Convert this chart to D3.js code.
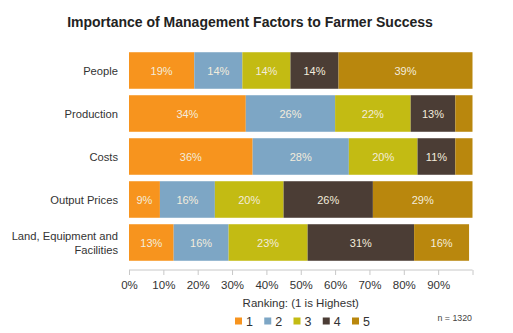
<!DOCTYPE html>
<html>
<head>
<meta charset="utf-8">
<script src="https://cdn.jsdelivr.net/npm/d3@7"></script>
<style>
  html, body { margin: 0; padding: 0; background: #fff; }
  svg { display: block; font-family: "Liberation Sans", Arial, sans-serif; }
</style>
</head>
<body>
<svg id="chart" width="513" height="333"></svg>
<script>
// Survey results: share of farmers giving each rank (1 = highest) to each factor
const categories = ["People", "Production", "Costs", "Output Prices", "Land, Equipment and Facilities"];
const ranks = ["1", "2", "3", "4", "5"];
const rank1 = [19, 34, 36, 9, 13];
const rank2 = [14, 26, 28, 16, 16];
const rank3 = [14, 22, 20, 20, 23];
const rank4 = [14, 13, 11, 26, 31];
const rank5 = [39, 5, 5, 29, 16];
const shownLabels = [
  [true, true, true, true, true],
  [true, true, true, true, false],
  [true, true, true, true, false],
  [true, true, true, true, true],
  [true, true, true, true, true]
];
const tickValues = [0, 10, 20, 30, 40, 50, 60, 70, 80, 90, 100];
const tickLabels = ["0%", "10%", "20%", "30%", "40%", "50%", "60%", "70%", "80%", "90%", ""];
const colors = ["#F7941E", "#7DA6C5", "#C3BB13", "#4B3D35", "#B9870D"];

const series = [rank1, rank2, rank3, rank4, rank5];
const rows = categories.map((c, i) => {
  const r = { category: c };
  ranks.forEach((k, j) => { r[k] = series[j][i]; });
  return r;
});
const stacked = d3.stack().keys(ranks)(rows);

const svg = d3.select("#chart");

const x = d3.scaleLinear().domain([0, 100]).range([129, 472.5]);
const y = d3.scaleBand().domain(categories).range([49, 264])
  .paddingInner(0.15).paddingOuter(0.075);
const color = d3.scaleOrdinal().domain(ranks).range(colors);

// Title
svg.append("text")
  .attr("x", 250).attr("y", 27)
  .attr("text-anchor", "middle")
  .attr("font-weight", "bold")
  .attr("font-size", 14)
  .attr("fill", "#222")
  .text("Importance of Management Factors to Farmer Success");

// Bars
const layer = svg.append("g").selectAll("g")
  .data(stacked).join("g")
  .attr("fill", d => color(d.key));

layer.selectAll("rect")
  .data(d => d.map((v, i) => ({ v, i, key: d.key })))
  .join("rect")
  .attr("x", d => x(d.v[0]))
  .attr("y", d => y(categories[d.i]))
  .attr("width", d => x(d.v[1]) - x(d.v[0]))
  .attr("height", y.bandwidth());

// Value labels inside segments
layer.selectAll("text")
  .data(d => d.map((v, i) => ({ v, i, key: d.key, j: ranks.indexOf(d.key) })))
  .join("text")
  .filter(d => shownLabels[d.i][d.j])
  .attr("x", d => (x(d.v[0]) + x(d.v[1])) / 2)
  .attr("y", d => y(categories[d.i]) + y.bandwidth() / 2 + 4)
  .attr("text-anchor", "middle")
  .attr("font-size", 11)
  .attr("fill", "#f3ecdc")
  .text(d => (d.v[1] - d.v[0]) + "%");

// Category labels
const catG = svg.append("g");
categories.forEach(c => {
  const cy = y(c) + y.bandwidth() / 2;
  const t = catG.append("text")
    .attr("x", 118)
    .attr("text-anchor", "end")
    .attr("font-size", 11.2)
    .attr("fill", "#333");
  if (c === "Land, Equipment and Facilities") {
    t.append("tspan").attr("x", 118).attr("y", cy - 3).text("Land, Equipment and");
    t.append("tspan").attr("x", 118).attr("y", cy + 11).text("Facilities");
  } else {
    t.attr("y", cy + 4).text(c);
  }
});

// X axis
const axisY = 270;
const axis = d3.axisBottom(x)
  .tickValues(tickValues)
  .tickFormat((d, i) => tickLabels[i])
  .tickSize(5)
  .tickPadding(6);
const axisG = svg.append("g")
  .attr("transform", `translate(0,${axisY})`)
  .call(axis);
axisG.select(".domain").attr("stroke", "#c8c8c8").attr("d", `M${x(0)},0H${x(100)}`);
axisG.selectAll(".tick line").attr("stroke", "#c8c8c8");
axisG.selectAll(".tick text")
  .attr("font-size", 11.5)
  .attr("font-family", "Liberation Sans, Arial, sans-serif")
  .attr("fill", "#333");

// Axis title
svg.append("text")
  .attr("x", (x(0) + x(100)) / 2).attr("y", 307)
  .attr("text-anchor", "middle")
  .attr("font-size", 11.5)
  .attr("fill", "#333")
  .text("Ranking: (1 is Highest)");

// Legend
const legendX = d3.scalePoint().domain(ranks).range([235, 352]);
const leg = svg.append("g").selectAll("g").data(ranks).join("g")
  .attr("transform", d => `translate(${legendX(d)},321)`);
leg.append("rect")
  .attr("x", 0).attr("y", -3.5)
  .attr("width", 7).attr("height", 7)
  .attr("fill", d => color(d));
leg.append("text")
  .attr("x", 11).attr("y", 4.5)
  .attr("font-size", 12.5)
  .attr("fill", "#333")
  .text(d => d);

// Sample size
svg.append("text")
  .attr("x", 472).attr("y", 321)
  .attr("text-anchor", "end")
  .attr("font-size", 8.8)
  .attr("fill", "#444")
  .text("n = 1320");
</script>
</body>
</html>
